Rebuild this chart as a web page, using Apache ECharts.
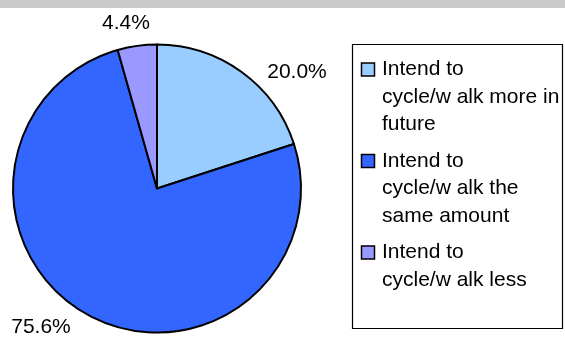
<!DOCTYPE html>
<html>
<head>
<meta charset="utf-8">
<title>Cycling and walking intentions</title>
<script src="https://cdn.jsdelivr.net/npm/echarts@6/dist/echarts.min.js"></script>
<style>
  html, body { margin: 0; padding: 0; background: #fff; }
  #chart { width: 565px; height: 338px; }
</style>
</head>
<body>
<div id="chart"></div>
<script>
// Intention categories (legend text, one line per '\n')
const categories = [
  'Intend to\ncycle/w alk more in\nfuture',
  'Intend to\ncycle/w alk the\nsame amount',
  'Intend to\ncycle/w alk less'
];
// Share of respondents, percent
const shares = [20.0, 75.6, 4.4];
// Slice fill colours
const colors = ['#99CCFF', '#3366FF', '#9999FF'];

const FONT = '"Liberation Sans", Arial, sans-serif';

// Label anchor points around the pie, by slice
const labelSpots = [[297, 72], [41, 327], [126, 23]];

// Legend: boxed list with square swatches, built from the arrays above
const legendLineH = 27.5;
const legendChildren = [{
  type: 'rect',
  shape: { x: 352.5, y: 44.5, width: 210, height: 284 },
  style: { fill: '#fff', stroke: '#000', lineWidth: 1.2 }
}];
let firstLine = 69.5;
categories.forEach((name, i) => {
  const lines = name.split('\n');
  legendChildren.push({
    type: 'rect',
    shape: { x: 361.5, y: firstLine - 6.5, width: 13, height: 13 },
    style: { fill: colors[i], stroke: '#000', lineWidth: 1.5 }
  });
  legendChildren.push({
    type: 'text',
    style: {
      text: name,
      x: 382,
      y: firstLine - legendLineH / 2,
      font: '21px ' + FONT,
      lineHeight: legendLineH,
      fill: '#000',
      verticalAlign: 'top',
      align: 'left'
    }
  });
  firstLine += lines.length * legendLineH + 9;
});

const chart = echarts.init(document.getElementById('chart'), null, { renderer: 'canvas' });
chart.setOption({
  animation: false,
  backgroundColor: '#fff',
  graphic: [
    { type: 'rect', shape: { x: 0, y: 0, width: 565, height: 8 }, style: { fill: '#CACACA' }, silent: true },
    { type: 'group', children: legendChildren, silent: true }
  ],
  series: [{
    type: 'pie',
    center: [157, 188.5],
    radius: 144,
    startAngle: 90,
    clockwise: true,
    avoidLabelOverlap: false,
    emphasis: { disabled: true },
    itemStyle: { borderColor: '#000', borderWidth: 2 },
    label: {
      show: true,
      position: 'outside',
      formatter: p => p.value.toFixed(1) + '%',
      fontFamily: FONT,
      fontSize: 21,
      color: '#000'
    },
    labelLine: { show: false },
    labelLayout: p => ({
      x: labelSpots[p.dataIndex][0],
      y: labelSpots[p.dataIndex][1],
      align: 'center',
      verticalAlign: 'middle'
    }),
    data: shares.map((v, i) => ({
      name: categories[i],
      value: v,
      itemStyle: { color: colors[i] }
    }))
  }]
});
</script>
</body>
</html>
